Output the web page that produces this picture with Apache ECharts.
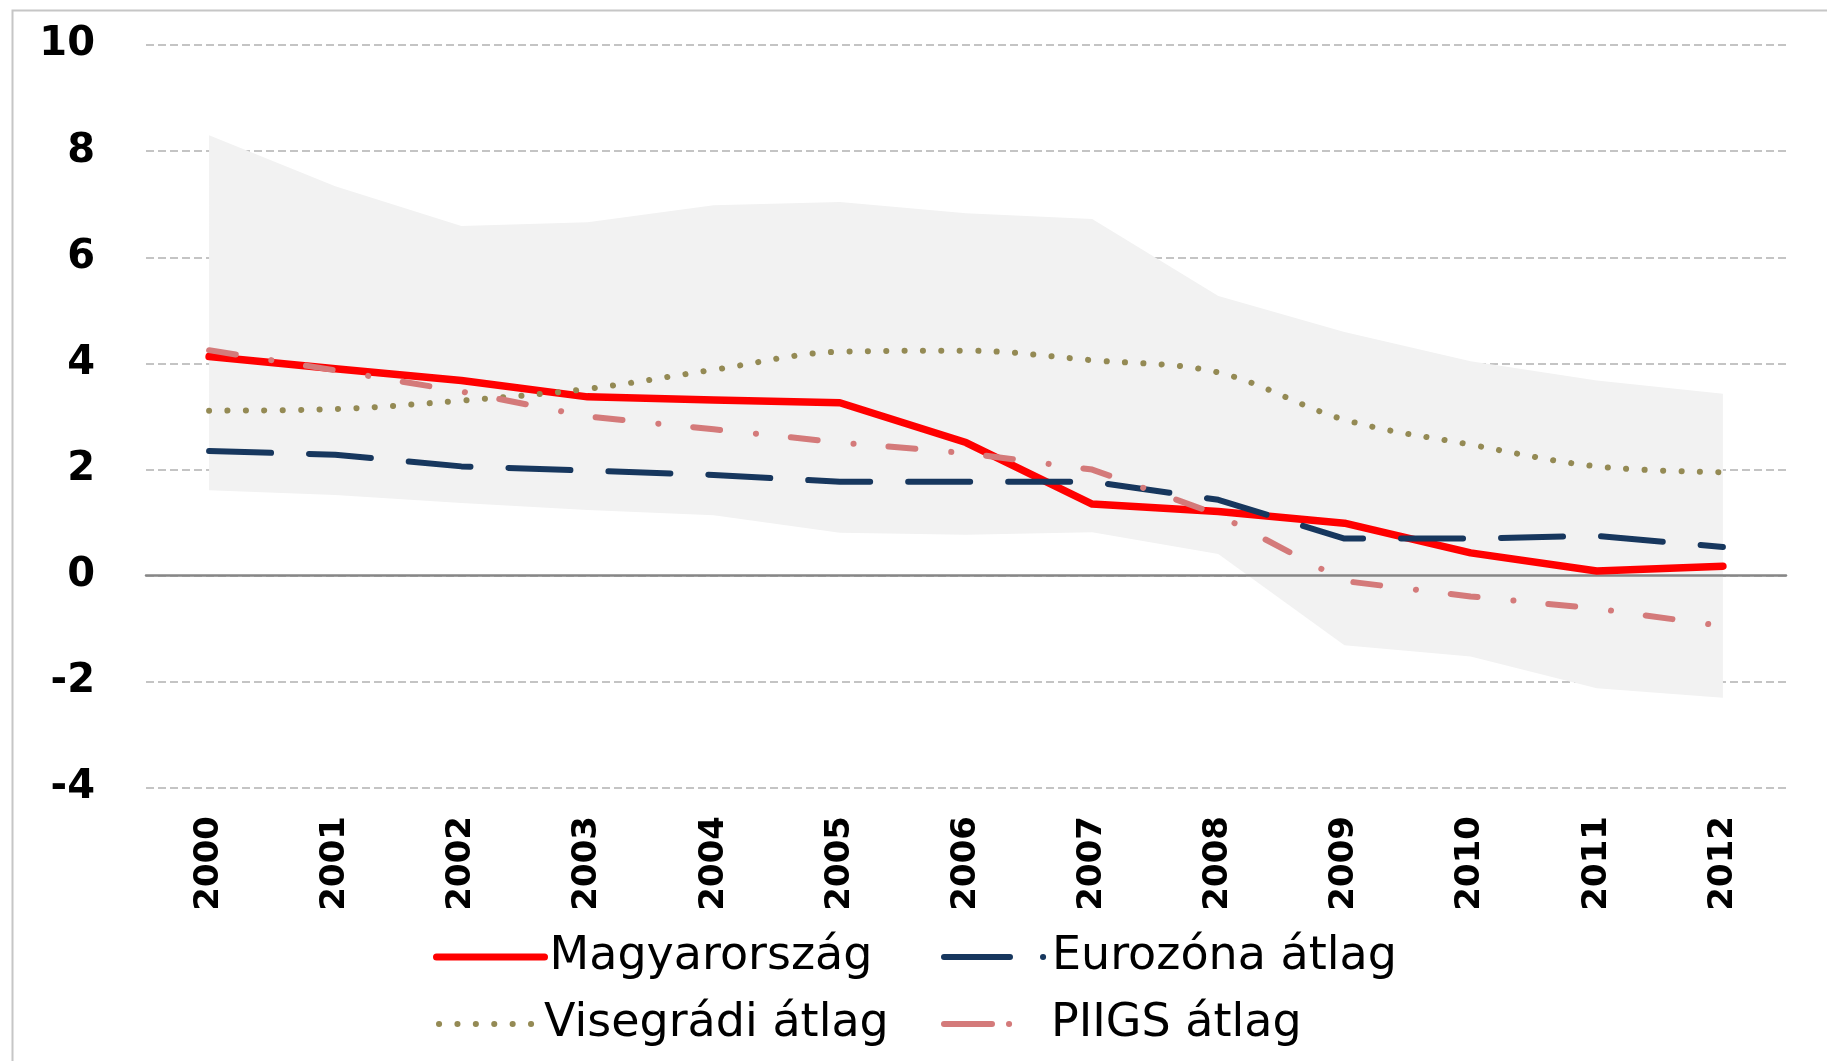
<!DOCTYPE html>
<html><head><meta charset="utf-8">
<script src="https://cdn.jsdelivr.net/npm/echarts@6/dist/echarts.min.js"></script>
<style>html,body{margin:0;padding:0;background:#fff}#c{width:1827px;height:1061px}</style>
</head><body><div id="c"></div>
<script>
const years = ['2000','2001','2002','2003','2004','2005','2006','2007','2008','2009','2010','2011','2012'];
const magyar = [4.13,3.90,3.68,3.37,3.31,3.26,2.51,1.35,1.21,0.99,0.43,0.09,0.18];
const euro   = [2.35,2.28,2.06,1.98,1.90,1.77,1.77,1.77,1.43,0.70,0.70,0.75,0.54];
const viseg  = [3.11,3.14,3.30,3.52,3.88,4.22,4.24,4.06,3.83,2.94,2.47,2.06,1.95];
const piigs  = [4.25,3.87,3.47,3.00,2.76,2.51,2.31,2.00,1.15,-0.10,-0.39,-0.62,-0.95];
const bandMax = [8.30,7.34,6.59,6.66,6.98,7.04,6.83,6.72,5.27,4.59,4.04,3.68,3.43];
const bandMin = [1.61,1.52,1.37,1.24,1.14,0.81,0.77,0.82,0.41,-1.31,-1.52,-2.12,-2.30];
const yMin = -4, yMax = 10, yStep = 2;
const names = ['Magyarország','Eurozóna átlag','Visegrádi átlag','PIIGS átlag'];

const bandRange = bandMax.map((v,i)=> +(v - bandMin[i]).toFixed(2));
const FONT = 'DejaVu Sans';
const chart = echarts.init(document.getElementById('c'), null, {renderer:'canvas'});

function leg(name, left, top, w, lw, dash, padLeft){
  const ls = {width:lw};
  if (dash) ls.type = dash;
  return {
    data:[name], left:left, top:top, orient:'horizontal',
    itemWidth:w, itemHeight:14, itemGap:0,
    selectedMode:false,
    textStyle:{fontFamily:FONT, fontSize:46, color:'#000', lineHeight:50, padding:[0,0,0,padLeft]},
    lineStyle:ls,
    itemStyle:{opacity:0}
  };
}

chart.setOption({
  animation:false,
  backgroundColor:'#fff',
  graphic:[{type:'rect', left:10, top:8, shape:{width:1830, height:1070}, style:{fill:'none', stroke:'#C6C6C6', lineWidth:2}, silent:true}],
  grid:{left:146, right:41, top:45, bottom:273, containLabel:false, outerBoundsMode:'none'},
  legend:[
    leg(names[0], 428, 927, 108, 7, null, 0),
    leg(names[1], 936, 927, 103, 6, [66,33,0.1,200], 0),
    leg(names[2], 431, 994, 97, 6, null, 3),
    leg(names[3], 936, 994, 66, 6, [48,17,0.1,200], 36)
  ],
  xAxis:[{
    type:'category', data:years, boundaryGap:true, position:'bottom',
    axisLine:{show:false, onZero:false}, axisTick:{show:false},
    axisLabel:{rotate:90, margin:28, fontFamily:FONT, fontSize:34, fontWeight:'bold', color:'#000', interval:0}
  },{
    type:'category', data:years, boundaryGap:true, position:'top', z:3,
    axisLine:{show:true, onZero:true, lineStyle:{color:'#878787', width:2.5}},
    axisTick:{show:false}, axisLabel:{show:false}, splitLine:{show:false}
  }],
  yAxis:{
    type:'value', min:yMin, max:yMax, interval:yStep,
    axisLine:{show:false}, axisTick:{show:false},
    axisLabel:{margin:51, fontFamily:FONT, fontSize:40, fontWeight:'bold', color:'#000'},
    splitLine:{show:true, lineStyle:{color:'#C4C4C4', width:2, type:[8,4]}}
  },
  series:[
    {name:'bandMin', type:'line', data:bandMin, stack:'band', stackStrategy:'all', symbol:'none', z:2,
     lineStyle:{width:0, opacity:0}, silent:true},
    {name:'bandRange', type:'line', data:bandRange, stack:'band', stackStrategy:'all', symbol:'none', z:2,
     lineStyle:{width:0, opacity:0}, areaStyle:{color:'#F2F2F2', opacity:1}, silent:true},
    {name:names[0], type:'line', data:magyar, symbol:'none', z:4, color:'#FF0000',
     lineStyle:{color:'#FF0000', width:7.5, cap:'round', join:'round'}},
    {name:names[1], type:'line', data:euro, symbol:'none', z:4, color:'#17375E',
     lineStyle:{color:'#17375E', width:6, type:[62,38], cap:'round', join:'round'}},
    {name:names[2], type:'line', data:viseg, symbol:'none', z:4, color:'#948A54', smooth:0.35,
     lineStyle:{color:'#948A54', width:6, type:[0.1,18.3], cap:'round', join:'round'}},
    {name:names[3], type:'line', data:piigs, symbol:'none', z:4, color:'#D47A7A',
     lineStyle:{color:'#D47A7A', width:6, type:[27,36,0.1,35], cap:'round', join:'round'}}
  ]
});
</script></body></html>
